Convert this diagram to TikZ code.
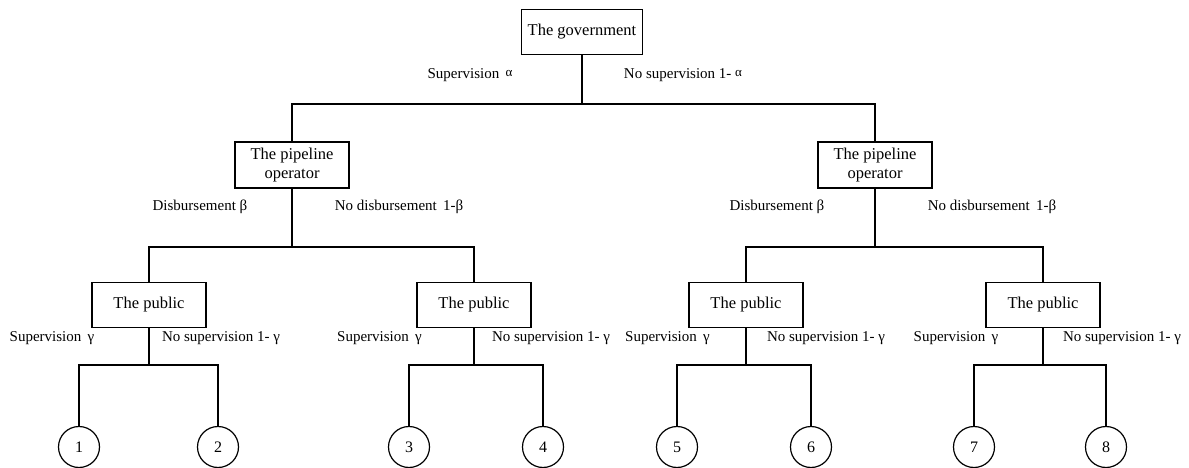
\documentclass[tikz,border=0pt]{standalone}
\usepackage{fontspec}
\setmainfont{Liberation Serif}
\newcommand{\smalpha}{\raisebox{2pt}{\fontsize{13}{14}\selectfont α}}
\begin{document}
\begin{tikzpicture}[x=1pt,y=-1pt,
  box/.style={draw,line width=1.2pt,minimum height=45pt,inner sep=0pt,align=center,font=\fontsize{16.5}{19.5}\selectfont},
  leaf/.style={draw,circle,line width=1.2pt,minimum size=41pt,inner sep=0pt,font=\fontsize{16}{17}\selectfont},
  lbl/.style={font=\fontsize{15}{17}\selectfont,inner sep=0pt},
  conn/.style={line width=1.5pt}]
\useasboundingbox (0,0) rectangle (1189,468);
% nodes
\node[box,minimum width=121pt] (gov) at (582,32) {The government};
\node[box,minimum width=114pt,minimum height=46pt] (p1) at (292,165) {The pipeline\\operator};
\node[box,minimum width=114pt,minimum height=46pt] (p2) at (875,165) {The pipeline\\operator};
\node[box,minimum width=114pt] (u1) at (149,305) {The public};
\node[box,minimum width=114pt] (u2) at (474,305) {The public};
\node[box,minimum width=114pt] (u3) at (746,305) {The public};
\node[box,minimum width=114pt] (u4) at (1043,305) {The public};
\node[leaf] (c1) at (79,447) {1};
\node[leaf] (c2) at (218,447) {2};
\node[leaf] (c3) at (409,447) {3};
\node[leaf] (c4) at (543,447) {4};
\node[leaf] (c5) at (677,447) {5};
\node[leaf] (c6) at (811,447) {6};
\node[leaf] (c7) at (974,447) {7};
\node[leaf] (c8) at (1106,447) {8};
% junctions
\coordinate (jg) at (582,104);
\coordinate (jp1) at (292,247);
\coordinate (jp2) at (875,247);
\coordinate (ju1) at (149,365);
\coordinate (ju2) at (474,365);
\coordinate (ju3) at (746,365);
\coordinate (ju4) at (1043,365);
% connectors
\draw[conn] (gov.south) -- (jg);
\draw[conn] (p1.north) |- (jg) -| (p2.north);
\draw[conn] (p1.south) -- (jp1);
\draw[conn] (u1.north) |- (jp1) -| (u2.north);
\draw[conn] (p2.south) -- (jp2);
\draw[conn] (u3.north) |- (jp2) -| (u4.north);
\draw[conn] (u1.south) -- (ju1);
\draw[conn] (c1.north) |- (ju1) -| (c2.north);
\draw[conn] (u2.south) -- (ju2);
\draw[conn] (c3.north) |- (ju2) -| (c4.north);
\draw[conn] (u3.south) -- (ju3);
\draw[conn] (c5.north) |- (ju3) -| (c6.north);
\draw[conn] (u4.south) -- (ju4);
\draw[conn] (c7.north) |- (ju4) -| (c8.north);
% labels
\node[lbl] (lg1) at (470,75) {Supervision \,\smalpha};
\node[lbl] (lg2) at (683,75) {No supervision 1- \smalpha};
\node[lbl] (lp1) at (200,207) {Disbursement β};
\node[lbl] (lp2) at (399,207) {No disbursement \,1-β};
\node[lbl] (lp3) at (777,207) {Disbursement β};
\node[lbl] (lp4) at (992,207) {No disbursement \,1-β};
\node[lbl] (la1) at (52,338) {Supervision \,γ};
\node[lbl] (lb1) at (221,338) {No supervision 1- γ};
\node[lbl] (la2) at (379.5,338) {Supervision \,γ};
\node[lbl] (lb2) at (551,338) {No supervision 1- γ};
\node[lbl] (la3) at (667.5,338) {Supervision \,γ};
\node[lbl] (lb3) at (826,338) {No supervision 1- γ};
\node[lbl] (la4) at (956,338) {Supervision \,γ};
\node[lbl] (lb4) at (1122,338) {No supervision 1- γ};
\end{tikzpicture}
\end{document}
